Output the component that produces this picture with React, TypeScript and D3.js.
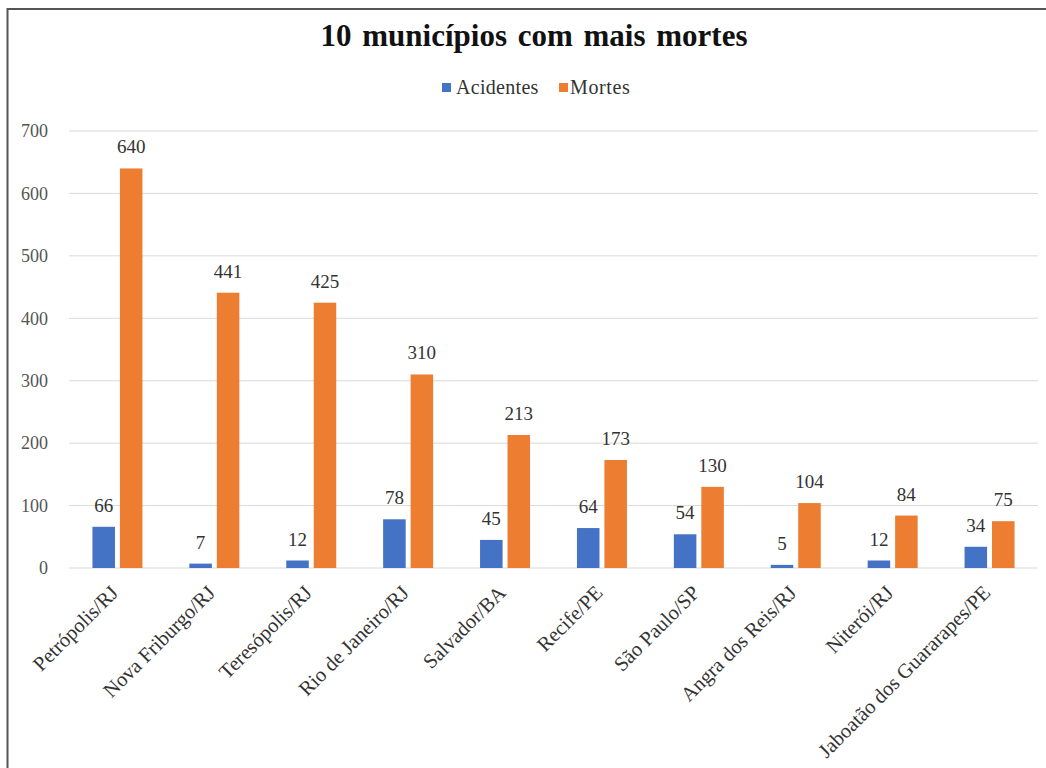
import React from 'react';
import * as d3 from 'd3';

const municipios = [
  'Petrópolis/RJ',
  'Nova Friburgo/RJ',
  'Teresópolis/RJ',
  'Rio de Janeiro/RJ',
  'Salvador/BA',
  'Recife/PE',
  'São Paulo/SP',
  'Angra dos Reis/RJ',
  'Niterói/RJ',
  'Jaboatão dos Guararapes/PE',
];
const acidentes = [66, 7, 12, 78, 45, 64, 54, 5, 12, 34];
const mortes = [640, 441, 425, 310, 213, 173, 130, 104, 84, 75];
const seriesNames = ['Acidentes', 'Mortes'];
const seriesColors = ['#4472C4', '#ED7D31'];
const yTicks = [0, 100, 200, 300, 400, 500, 600, 700];

const W = 1046;
const H = 768;
const FONT = '"Liberation Serif", "Times New Roman", serif';

export default function App() {
  const x0 = d3.scaleBand<string>().domain(municipios).range([69, 1038]);
  const bw = x0.bandwidth();
  const x1 = d3
    .scaleBand<string>()
    .domain(seriesNames)
    .range([bw / 2 - 25, bw / 2 + 25])
    .paddingInner(0.18);
  const y = d3.scaleLinear().domain([0, 700]).range([568, 131]);
  const color = d3.scaleOrdinal<string, string>().domain(seriesNames).range(seriesColors);

  const values = [acidentes, mortes];

  return (
    <svg
      width={W}
      height={H}
      style={{ position: 'absolute', left: 0, top: 0, background: '#fff' }}
      fontFamily={FONT}
    >
      {/* frame (cropped at right and bottom) */}
      <rect x={7.5} y={9} width={W + 20} height={H + 20} fill="none" stroke="#555" strokeWidth={2} />

      {/* title */}
      <text x={534} y={46} textAnchor="middle" fontSize={31} fontWeight="bold" fill="#111" wordSpacing={3}>
        10 municípios com mais mortes
      </text>

      {/* legend */}
      <g fontSize={20} fill="#333">
        <rect x={442} y={83} width={9} height={9} fill={color('Acidentes')} />
        <text x={456} y={94} letterSpacing={0.3}>Acidentes</text>
        <rect x={559} y={83} width={9} height={9} fill={color('Mortes')} />
        <text x={570} y={94} letterSpacing={0.6}>Mortes</text>
      </g>

      {/* grid + y axis */}
      {yTicks.map((t) => (
        <g key={t}>
          <line x1={69} x2={1038} y1={y(t)} y2={y(t)} stroke="#d9d9d9" strokeWidth={1} />
          <text x={48} y={y(t)} dy="0.35em" textAnchor="end" fontSize={18} fill="#555">
            {t}
          </text>
        </g>
      ))}

      {/* bars */}
      {municipios.map((m, i) => (
        <g key={m} transform={`translate(${x0(m)},0)`}>
          {seriesNames.map((s, k) => {
            const v = values[k][i];
            const bx = x1(s)!;
            return (
              <g key={s}>
                <rect x={bx} y={y(v)} width={x1.bandwidth()} height={y(0) - y(v)} fill={color(s)} />
                <text
                  x={bx + x1.bandwidth() / 2}
                  y={y(v) - 15}
                  textAnchor="middle"
                  fontSize={19}
                  fill="#333"
                >
                  {v}
                </text>
              </g>
            );
          })}
        </g>
      ))}

      {/* category labels */}
      {municipios.map((m) => {
        const cx = x0(m)! + bw / 2 + 2;
        const cy = 594;
        return (
          <text
            key={m}
            transform={`translate(${cx},${cy}) rotate(-45)`}
            textAnchor="end"
            fontSize={20.5}
            fill="#333"
          >
            {m}
          </text>
        );
      })}
    </svg>
  );
}
